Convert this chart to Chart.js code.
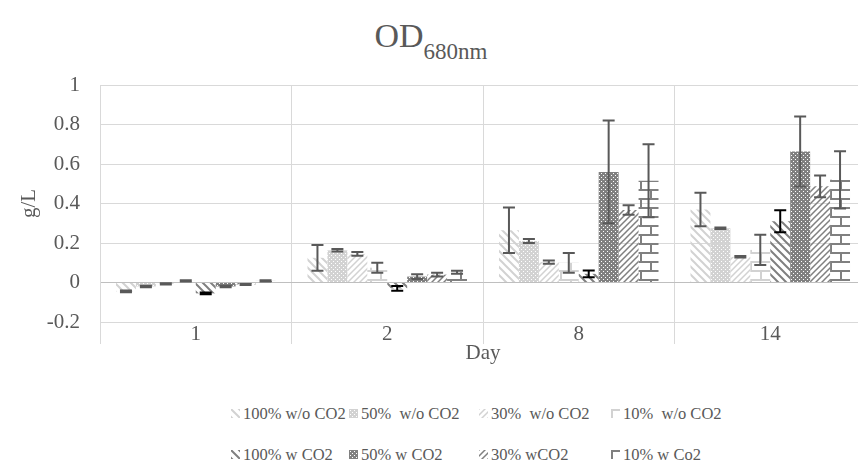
<!DOCTYPE html>
<html>
<head>
<meta charset="utf-8">
<script src="https://cdn.jsdelivr.net/npm/chart.js@4.4.0/dist/chart.umd.min.js"></script>
<style>
  html, body { margin:0; padding:0; background:#fff; overflow:hidden; width:858px; height:470px; }
  #wrap { position:absolute; left:0; top:0; }
  #titulo { position:absolute; left:0; top:16px; width:862px; text-align:center; font-family:'Liberation Serif', serif; font-size:34px; line-height:40px; color:#595959; }
  #titulo span { font-size:23px; position:relative; top:12px; }
  .item { position:absolute; font-family:'Liberation Serif', serif; font-size:16.5px; color:#595959; white-space:pre; line-height:20px; }
  .item canvas { position:absolute; left:-12px; top:5px; }
</style>
</head>
<body>
<div id="titulo">OD<span>680nm</span></div>
<div id="wrap"><canvas id="myChart" width="872" height="372"></canvas></div>
<div id="leyenda"></div>
<script>
// datos
const dias = ['1', '2', '8', '14'];
const series = ['100% w/o CO2', '50%  w/o CO2', '30%  w/o CO2', '10%  w/o CO2',
                '100% w CO2', '50% w CO2', '30% wCO2', '10% w Co2'];

const s100sin = [-0.045, 0.125, 0.265, 0.37];
const s50sin  = [-0.02, 0.163, 0.21, 0.275];
const s30sin  = [-0.007, 0.145, 0.103, 0.13];
const s10sin  = [0.008, 0.075, 0.1, 0.165];
const s100con = [-0.055, -0.03, 0.044, 0.31];
const s50con  = [-0.02, 0.03, 0.56, 0.663];
const s30con  = [-0.01, 0.04, 0.367, 0.487];
const s10con  = [0.008, 0.052, 0.515, 0.52];

const e100sin = [0.004, 0.065, 0.115, 0.085];
const e50sin  = [0.004, 0.006, 0.01, 0.004];
const e30sin  = [0.003, 0.01, 0.008, 0.004];
const e10sin  = [0.003, 0.025, 0.05, 0.077];
const e100con = [0.005, 0.012, 0.017, 0.056];
const e50con  = [0.004, 0.012, 0.26, 0.177];
const e30con  = [0.003, 0.01, 0.024, 0.055];
const e10con  = [0.003, 0.008, 0.185, 0.145];

const yTicks = [-0.2, 0, 0.2, 0.4, 0.6, 0.8, 1];

const claro = '#d2d2d2';
const oscuro = '#808080';

// dibuja un mosaico para el patron (primero el tamaño, luego el estilo)
const mosaico = (tipo, color) => {
  const c = document.createElement('canvas');
  if (tipo === 'bajada') { c.width = 8; c.height = 8; }
  else if (tipo === 'puntos') { c.width = 4; c.height = 4; }
  else if (tipo === 'subida') { c.width = 6; c.height = 6; }
  else { c.width = 20; c.height = 18; }
  const x = c.getContext('2d');
  x.strokeStyle = color;
  x.fillStyle = color;
  if (tipo === 'bajada') {
    x.lineWidth = 2;
    x.beginPath();
    x.moveTo(-2, -2); x.lineTo(10, 10);
    x.moveTo(-6, 2); x.lineTo(2, 10);
    x.moveTo(6, -2); x.lineTo(10, 2);
    x.stroke();
  } else if (tipo === 'puntos') {
    x.fillRect(0, 0, 4, 4);
    x.clearRect(1, 1, 1, 1);
    x.clearRect(3, 3, 1, 1);
  } else if (tipo === 'subida') {
    x.lineWidth = 1.5;
    x.beginPath();
    x.moveTo(-2, 8); x.lineTo(8, -2);
    x.moveTo(-2, 2); x.lineTo(2, -2);
    x.moveTo(4, 8); x.lineTo(8, 4);
    x.stroke();
  } else {
    x.lineWidth = 2;
    x.beginPath();
    x.moveTo(0, 1); x.lineTo(20, 1);
    x.moveTo(0, 10); x.lineTo(20, 10);
    x.moveTo(1, 1); x.lineTo(1, 10);
    x.moveTo(11, 10); x.lineTo(11, 18);
    x.stroke();
  }
  return c;
};

const ctx = document.getElementById('myChart');
const c2d = ctx.getContext('2d');
const patron = (tipo, color) => c2d.createPattern(mosaico(tipo, color), 'repeat');

const estilos = [
  ['bajada', claro], ['puntos', claro], ['subida', claro], ['ladrillo', claro],
  ['bajada', oscuro], ['puntos', oscuro], ['subida', oscuro], ['ladrillo', oscuro]
];
const valores = [s100sin, s50sin, s30sin, s10sin, s100con, s50con, s30con, s10con];
const errores = [e100sin, e50sin, e30sin, e10sin, e100con, e50con, e30con, e10con];

const datasets = series.map((nombre, i) => ({
  label: nombre,
  data: valores[i],
  err: errores[i],
  colorError: i === 4 ? '#000000' : '#595959',
  backgroundColor: patron(estilos[i][0], estilos[i][1]),
  borderWidth: 0,
  categoryPercentage: 0.833,
  barPercentage: 1
}));

const barrasError = {
  id: 'barrasError',
  afterDatasetsDraw(chart) {
    const g = chart.ctx;
    const y = chart.scales.y;
    chart.data.datasets.forEach((ds, i) => {
      chart.getDatasetMeta(i).data.forEach((bar, j) => {
        const arriba = y.getPixelForValue(ds.data[j] + ds.err[j]);
        const abajo = y.getPixelForValue(ds.data[j] - ds.err[j]);
        g.save();
        g.strokeStyle = ds.colorError;
        g.lineWidth = 2;
        g.beginPath();
        g.moveTo(bar.x, arriba); g.lineTo(bar.x, abajo);
        g.moveTo(bar.x - 6, arriba); g.lineTo(bar.x + 6, arriba);
        g.moveTo(bar.x - 6, abajo); g.lineTo(bar.x + 6, abajo);
        g.stroke();
        g.restore();
      });
    });
  }
};

Chart.defaults.font.family = "'Liberation Serif', serif";
Chart.defaults.color = '#595959';

const myChart = new Chart(ctx, {
  type: 'bar',
  data: { labels: dias, datasets: datasets },
  options: {
    responsive: false,
    animation: false,
    devicePixelRatio: 1,
    layout: { padding: { top: 85, right: 6, left: 0, bottom: 0 } },
    plugins: { legend: { display: false }, tooltip: { enabled: false } },
    scales: {
      x: {
        grid: { color: '#d9d9d9', offset: true, tickLength: 22, lineWidth: 1 },
        border: { color: '#d9d9d9' },
        ticks: { font: { size: 21 }, padding: -22, color: '#595959' },
        title: { display: true, text: 'Day', font: { size: 21 }, color: '#595959', padding: { top: 0, bottom: 6 } },
        afterFit: (s) => { s.height = 50; }
      },
      y: {
        min: -0.2,
        max: 1,
        afterBuildTicks: (s) => { s.ticks = yTicks.map(v => ({ value: v })); },
        grid: { color: (c) => c.tick && c.tick.value === 0 ? '#bfbfbf' : '#d9d9d9', drawTicks: false },
        border: { color: '#d9d9d9' },
        ticks: { font: { size: 21 }, padding: 20, color: '#595959', callback: (v) => String(Number(v.toFixed(1))) },
        title: { display: true, text: 'g/L', font: { size: 21 }, color: '#595959', padding: { top: 17, bottom: 0 } },
        afterFit: (s) => { s.width = 100; }
      }
    }
  },
  plugins: [barrasError]
});

// leyenda en dos filas
const columnas = [243, 361, 491, 623];
const filas = [404, 445];
const leyenda = document.getElementById('leyenda');
series.forEach((nombre, i) => {
  const d = document.createElement('div');
  d.className = 'item';
  d.style.left = columnas[i % 4] + 'px';
  d.style.top = filas[Math.floor(i / 4)] + 'px';
  const m = document.createElement('canvas');
  m.width = 9; m.height = 9;
  const mc = m.getContext('2d');
  mc.fillStyle = mc.createPattern(mosaico(estilos[i][0], estilos[i][1]), 'repeat');
  mc.fillRect(0, 0, 9, 9);
  d.appendChild(m);
  d.appendChild(document.createTextNode(nombre));
  leyenda.appendChild(d);
});
</script>
</body>
</html>
